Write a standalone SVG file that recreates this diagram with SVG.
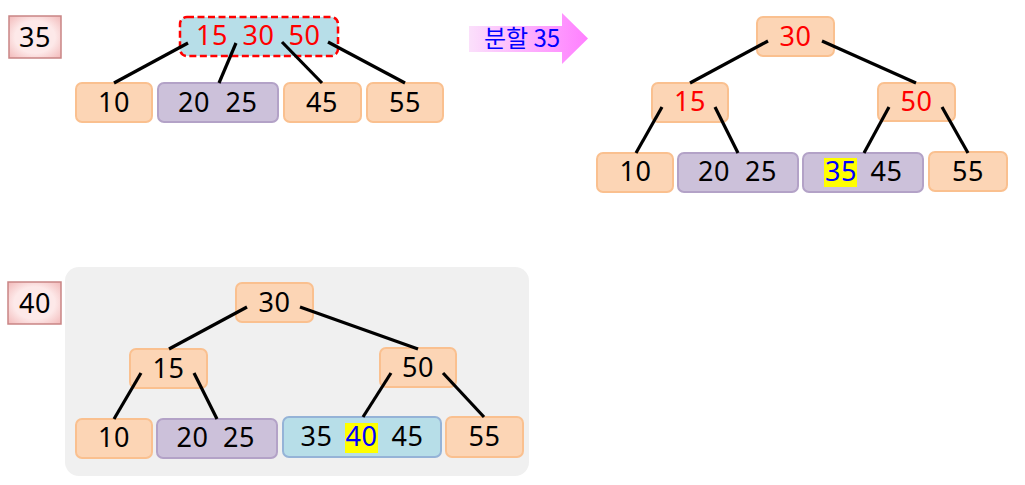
<svg xmlns="http://www.w3.org/2000/svg" width="1025" height="485" viewBox="0 0 1025 485">
  <defs>
    <linearGradient id="arrowGrad" x1="0" y1="0" x2="1" y2="0">
      <stop offset="0" stop-color="#fbe0fb"/>
      <stop offset="1" stop-color="#ff7fff"/>
    </linearGradient>
    <radialGradient id="labelGrad" cx="0.5" cy="0.5" r="0.7">
      <stop offset="0.55" stop-color="#fde9e9"/>
      <stop offset="1" stop-color="#f2b9b9"/>
    </radialGradient>
  </defs>
  <style>
    .peach { fill: #fcd5b5; stroke: #fac08f; stroke-width: 2; }
    .purple { fill: #ccc1da; stroke: #b3a2c7; stroke-width: 2; }
    .blue { fill: #b7dee8; stroke: #95b3d7; stroke-width: 2; }
    .split { fill: #b7dee8; stroke: #ff0000; stroke-width: 2.5; stroke-dasharray: 7 3.5; }
    .label { fill: url(#labelGrad); stroke: #c98585; stroke-width: 1.5; }
    .hl { fill: #ffff00; }
    .t { font-family: "Noto Sans", "DejaVu Sans", sans-serif; font-size: 27px; text-anchor: middle; fill: #000000; letter-spacing: 0.5px; }
    .red { fill: #ff0000; }
    .bl { fill: #0000ff; }
    .edge { stroke: #000000; stroke-width: 3.2; fill: none; }
  </style>

  <!-- background panel for the second step -->
  <rect x="65" y="267" width="464" height="209" rx="14" fill="#f0f0f0"/>

  <!-- step labels -->
  <g id="label35">
    <rect class="label" x="9" y="16" width="52" height="42"/>
    <text class="t" x="35" y="47">35</text>
  </g>
  <g id="label40">
    <rect class="label" x="8" y="282" width="53" height="42"/>
    <text class="t" x="35" y="313">40</text>
  </g>

  <!-- top-left tree (overflow) -->
  <g id="a_root">
    <rect class="split" x="180" y="17" width="158" height="39" rx="7"/>
    <text class="t red" x="212" y="45">15</text>
    <text class="t red" x="258.5" y="45">30</text>
    <text class="t red" x="304.5" y="45">50</text>
  </g>
  <g id="a_10">
    <rect class="peach" x="76" y="83" width="76" height="39" rx="6"/>
    <text class="t" x="114" y="112">10</text>
  </g>
  <g id="a_2025">
    <rect class="purple" x="158" y="83" width="120" height="39" rx="6"/>
    <text class="t" x="194" y="112">20</text>
    <text class="t" x="241.5" y="112">25</text>
  </g>
  <g id="a_45">
    <rect class="peach" x="284" y="83" width="77" height="39" rx="6"/>
    <text class="t" x="322" y="112">45</text>
  </g>
  <g id="a_55">
    <rect class="peach" x="367" y="83" width="76" height="39" rx="6"/>
    <text class="t" x="405" y="112">55</text>
  </g>

  <!-- split arrow -->
  <g id="arrow">
    <polygon points="469,26 562,26 562,13 588,38.5 562,64 562,52 469,52" fill="url(#arrowGrad)"/>
    <text x="522" y="47" font-family="'Noto Sans CJK KR', 'Noto Sans', sans-serif" font-size="24" text-anchor="middle" fill="#0000ff">분할 35</text>
  </g>

  <!-- right tree (after split) -->
  <g id="b_30">
    <rect class="peach" x="757" y="17" width="77" height="39" rx="6"/>
    <text class="t red" x="795.5" y="46">30</text>
  </g>
  <g id="b_15">
    <rect class="peach" x="652" y="83" width="76" height="39" rx="6"/>
    <text class="t red" x="690" y="111">15</text>
  </g>
  <g id="b_50">
    <rect class="peach" x="878" y="83" width="77" height="38" rx="6"/>
    <text class="t red" x="916.5" y="111">50</text>
  </g>
  <g id="b_10">
    <rect class="peach" x="597" y="153" width="76" height="39" rx="6"/>
    <text class="t" x="635.5" y="181">10</text>
  </g>
  <g id="b_2025">
    <rect class="purple" x="678" y="153" width="120" height="39" rx="6"/>
    <text class="t" x="714" y="181">20</text>
    <text class="t" x="761" y="181">25</text>
  </g>
  <g id="b_3545">
    <rect class="purple" x="803" y="153" width="120" height="39" rx="6"/>
    <rect class="hl" x="824" y="158" width="33" height="29"/>
    <text class="t bl" x="841" y="181">35</text>
    <text class="t" x="886.5" y="181">45</text>
  </g>
  <g id="b_55">
    <rect class="peach" x="929" y="152" width="78" height="39" rx="6"/>
    <text class="t" x="968" y="181">55</text>
  </g>

  <!-- bottom tree (insert 40) -->
  <g id="c_30">
    <rect class="peach" x="236" y="283" width="77" height="39" rx="6"/>
    <text class="t" x="274.5" y="312">30</text>
  </g>
  <g id="c_15">
    <rect class="peach" x="130" y="349" width="77" height="39" rx="6"/>
    <text class="t" x="168.5" y="378">15</text>
  </g>
  <g id="c_50">
    <rect class="peach" x="380" y="348" width="76" height="39" rx="6"/>
    <text class="t" x="418" y="377">50</text>
  </g>
  <g id="c_10">
    <rect class="peach" x="76" y="419" width="76" height="39" rx="6"/>
    <text class="t" x="114" y="447">10</text>
  </g>
  <g id="c_2025">
    <rect class="purple" x="157" y="419" width="120" height="39" rx="6"/>
    <text class="t" x="192.5" y="447">20</text>
    <text class="t" x="239" y="447">25</text>
  </g>
  <g id="c_354045">
    <rect class="blue" x="283" y="417" width="158" height="40" rx="6"/>
    <rect class="hl" x="345" y="423" width="33" height="30"/>
    <text class="t" x="316.5" y="446">35</text>
    <text class="t bl" x="361.5" y="446">40</text>
    <text class="t" x="407.5" y="446">45</text>
  </g>
  <g id="c_55">
    <rect class="peach" x="446" y="417" width="77" height="40" rx="6"/>
    <text class="t" x="484.5" y="446">55</text>
  </g>

  <!-- connectors -->
  <g id="connectors">
    <line class="edge" x1="188" y1="43" x2="114" y2="83"/>
    <line class="edge" x1="236" y1="43" x2="219" y2="83"/>
    <line class="edge" x1="282" y1="42" x2="322" y2="83"/>
    <line class="edge" x1="328" y1="42" x2="405" y2="83"/>

    <line class="edge" x1="768" y1="41" x2="690" y2="83"/>
    <line class="edge" x1="822" y1="41" x2="916" y2="83"/>
    <line class="edge" x1="662" y1="107" x2="636" y2="153"/>
    <line class="edge" x1="715" y1="107" x2="738" y2="153"/>
    <line class="edge" x1="889" y1="107" x2="864" y2="153"/>
    <line class="edge" x1="942" y1="107" x2="968" y2="153"/>

    <line class="edge" x1="247" y1="307" x2="169" y2="349"/>
    <line class="edge" x1="300" y1="307" x2="418" y2="349"/>
    <line class="edge" x1="141" y1="373" x2="114" y2="419"/>
    <line class="edge" x1="194" y1="373" x2="217" y2="419"/>
    <line class="edge" x1="391" y1="373" x2="363" y2="417"/>
    <line class="edge" x1="443" y1="373" x2="484" y2="417"/>
  </g>
</svg>
